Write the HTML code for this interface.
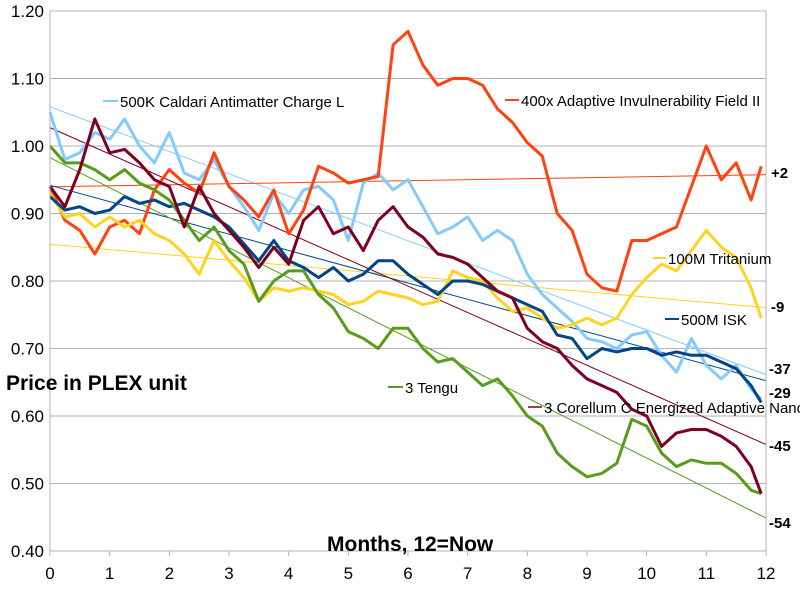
<!DOCTYPE html>
<html><head><meta charset="utf-8">
<style>
body{margin:0;background:#fff;}
svg{display:block;font-family:"Liberation Sans",sans-serif;}
</style></head>
<body>
<svg id="chart" width="800" height="600" viewBox="0 0 800 600">
<g id="grid"></g>
<g id="trends"></g>
<g id="series"></g>
<g id="axes"></g>
<text x="6" y="390" font-size="21" font-weight="bold">Price in PLEX unit</text>
<text x="327" y="551" font-size="21" font-weight="bold">Months, 12=Now</text>
<g><line x1="103" y1="101" x2="118" y2="101" stroke="#83CAFF" stroke-width="2"/><text x="120" y="107" font-size="15">500K Caldari Antimatter Charge L</text></g>
<g><line x1="505" y1="100" x2="519" y2="100" stroke="#FF420E" stroke-width="2"/><text x="521" y="106" font-size="15">400x Adaptive Invulnerability Field II</text></g>
<g><line x1="653" y1="258" x2="666" y2="258" stroke="#FFD320" stroke-width="2"/><text x="668" y="264" font-size="15">100M Tritanium</text></g>
<g><line x1="665" y1="319" x2="679" y2="319" stroke="#004586" stroke-width="2"/><text x="681" y="325" font-size="15">500M ISK</text></g>
<g><line x1="388" y1="387" x2="403" y2="387" stroke="#579D1C" stroke-width="2"/><text x="405" y="393" font-size="15">3 Tengu</text></g>
<g><line x1="528" y1="407" x2="542" y2="407" stroke="#7E0021" stroke-width="1.5"/><text x="544" y="413" font-size="15">3 Corellum C Energized Adaptive Nano</text></g>
<g font-size="15" font-weight="bold">
<text x="771" y="178">+2</text><text x="771" y="312">-9</text><text x="769" y="374">-37</text>
<text x="769" y="398">-29</text><text x="769" y="451">-45</text><text x="769" y="528">-54</text>
</g>
</svg>
<script>
const months = [0,0.25,0.5,0.75,1,1.25,1.5,1.75,2,2.25,2.5,2.75,3,3.25,3.5,3.75,4,4.25,4.5,4.75,5,5.25,5.5,5.75,6,6.25,6.5,6.75,7,7.25,7.5,7.75,8,8.25,8.5,8.75,9,9.25,9.5,9.75,10,10.25,10.5,10.75,11,11.25,11.5,11.75,11.92];
const caldari = [1.05,0.98,0.99,1.02,1.01,1.04,1.0,0.975,1.02,0.96,0.95,0.98,0.94,0.91,0.875,0.93,0.90,0.935,0.94,0.92,0.86,0.945,0.96,0.935,0.95,0.91,0.87,0.88,0.895,0.86,0.875,0.86,0.81,0.78,0.76,0.74,0.715,0.71,0.70,0.72,0.725,0.69,0.665,0.715,0.675,0.655,0.675,0.64,0.625];
const invuln = [0.94,0.89,0.875,0.84,0.88,0.89,0.87,0.935,0.965,0.945,0.93,0.99,0.94,0.92,0.895,0.935,0.87,0.905,0.97,0.96,0.945,0.95,0.955,1.15,1.17,1.12,1.09,1.10,1.10,1.09,1.055,1.035,1.005,0.985,0.90,0.875,0.81,0.79,0.785,0.86,0.86,0.87,0.88,0.94,1.0,0.95,0.975,0.92,0.97];
const corellum = [0.94,0.91,0.965,1.04,0.99,0.995,0.975,0.95,0.94,0.88,0.94,0.90,0.875,0.85,0.82,0.85,0.825,0.89,0.91,0.87,0.88,0.845,0.89,0.91,0.88,0.865,0.84,0.835,0.825,0.805,0.785,0.775,0.73,0.71,0.70,0.675,0.655,0.645,0.635,0.61,0.60,0.555,0.575,0.58,0.58,0.57,0.555,0.525,0.485];
const tengu = [1.0,0.975,0.975,0.965,0.95,0.965,0.945,0.935,0.92,0.89,0.86,0.88,0.845,0.825,0.77,0.80,0.815,0.815,0.78,0.76,0.725,0.715,0.70,0.73,0.73,0.70,0.68,0.685,0.665,0.645,0.655,0.63,0.60,0.585,0.545,0.525,0.51,0.515,0.53,0.595,0.585,0.545,0.525,0.535,0.53,0.53,0.515,0.49,0.485];
const tritanium = [0.93,0.895,0.90,0.88,0.895,0.88,0.89,0.87,0.86,0.84,0.81,0.86,0.83,0.805,0.77,0.79,0.785,0.79,0.785,0.78,0.765,0.77,0.785,0.78,0.775,0.765,0.77,0.815,0.805,0.80,0.775,0.755,0.76,0.745,0.73,0.735,0.745,0.735,0.745,0.78,0.805,0.825,0.815,0.845,0.875,0.85,0.835,0.79,0.745];
const isk = [0.925,0.905,0.91,0.90,0.905,0.925,0.915,0.92,0.91,0.915,0.905,0.895,0.88,0.855,0.83,0.86,0.83,0.82,0.805,0.82,0.80,0.81,0.83,0.83,0.81,0.795,0.78,0.80,0.80,0.795,0.785,0.775,0.765,0.755,0.72,0.715,0.685,0.70,0.695,0.70,0.70,0.69,0.695,0.69,0.69,0.68,0.67,0.645,0.62];
const yTicks = ["0.40","0.50","0.60","0.70","0.80","0.90","1.00","1.10","1.20"];
const xTicks = ["0","1","2","3","4","5","6","7","8","9","10","11","12"];

const NS="http://www.w3.org/2000/svg";
const X0=50,X1=766,Y0=551,Y1=11,VMIN=0.4,VMAX=1.2;
function xs(m){return X0+(m/12)*(X1-X0);}
function ys(v){return Y0-(v-VMIN)/(VMAX-VMIN)*(Y0-Y1);}
function mk(tag,parent){const e=document.createElementNS(NS,tag);parent.appendChild(e);return e;}
const grid=document.getElementById('grid'),axes=document.getElementById('axes');
yTicks.forEach(t=>{
  const v=parseFloat(t);
  const l=mk('line',grid);
  
  
  l.setAttribute('x1',X0);l.setAttribute('x2',X1);l.setAttribute('y1',ys(v));l.setAttribute('y2',ys(v));
  l.setAttribute('stroke','#b3b3b3');l.setAttribute('stroke-width','1');
  const tx=mk('text',axes);
  
  
  tx.setAttribute('x',44);tx.setAttribute('y',ys(v)+6);tx.setAttribute('text-anchor','end');tx.setAttribute('font-size','17');
  tx.textContent=t;
});
xTicks.forEach(t=>{
  const m=parseFloat(t);
  const l=mk('line',axes);
  
  
  l.setAttribute('x1',xs(m));l.setAttribute('x2',xs(m));l.setAttribute('y1',Y0);l.setAttribute('y2',Y0+5);
  l.setAttribute('stroke','#b3b3b3');
  const tx=mk('text',axes);
  
  
  tx.setAttribute('x',xs(m));tx.setAttribute('y',Y0+28);tx.setAttribute('text-anchor','middle');tx.setAttribute('font-size','17');
  tx.textContent=t;
});
[[X0,Y1,X0,Y0+5],[X1,Y1,X1,Y0]].forEach(c=>{
  const l=mk('line',axes);
  
  
  l.setAttribute('x1',c[0]);l.setAttribute('y1',c[1]);l.setAttribute('x2',c[2]);l.setAttribute('y2',c[3]);
  l.setAttribute('stroke','#b3b3b3');
});
const seriesList=[["caldari",caldari,"#83CAFF"],["invuln",invuln,"#FF420E"],["tritanium",tritanium,"#FFD320"],["isk",isk,"#004586"],["tengu",tengu,"#579D1C"],["corellum",corellum,"#7E0021"]];
const sg=document.getElementById('series'),tg=document.getElementById('trends');
seriesList.forEach(s=>{
  const vals=s[1],n=vals.length;
  let sx=0,sy=0,sxx=0,sxy=0;
  for(let i=0;i<n;i++){sx+=months[i];sy+=vals[i];sxx+=months[i]*months[i];sxy+=months[i]*vals[i];}
  const b=(n*sxy-sx*sy)/(n*sxx-sx*sx),a=(sy-b*sx)/n;
  const tl=mk('line',tg);
  
  
  tl.setAttribute('x1',xs(0));tl.setAttribute('y1',ys(a));tl.setAttribute('x2',xs(12));tl.setAttribute('y2',ys(a+b*12));
  tl.setAttribute('stroke',s[2]);tl.setAttribute('stroke-width','1');
  const p=mk('path',sg);
  
  
  p.setAttribute('d',vals.map((v,i)=>(i?'L':'M')+xs(months[i]).toFixed(1)+' '+ys(v).toFixed(1)).join(' '));
  p.setAttribute('fill','none');p.setAttribute('stroke',s[2]);p.setAttribute('stroke-width','3');p.setAttribute('stroke-linejoin','round');
});
</script>
</body></html>
